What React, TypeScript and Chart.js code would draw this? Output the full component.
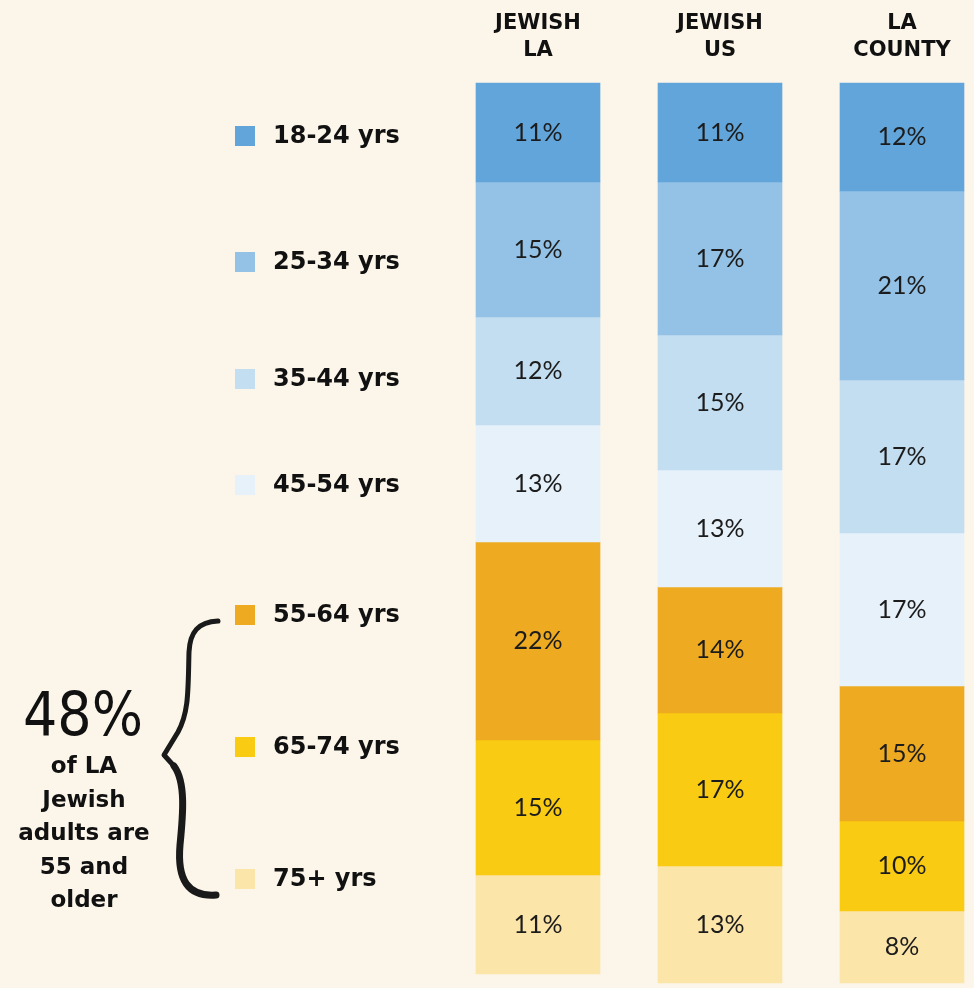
import React, { useEffect, useRef } from "react";
import { Chart, registerables } from "chart.js";

Chart.register(...registerables);

// ---- data ----
const columns: string[][] = [
  ["JEWISH", "LA"],
  ["JEWISH", "US"],
  ["LA", "COUNTY"],
];
const ageGroups = [
  "18-24 yrs",
  "25-34 yrs",
  "35-44 yrs",
  "45-54 yrs",
  "55-64 yrs",
  "65-74 yrs",
  "75+ yrs",
];
const age18_24 = [11, 11, 12];
const age25_34 = [15, 17, 21];
const age35_44 = [12, 15, 17];
const age45_54 = [13, 13, 17];
const age55_64 = [22, 14, 15];
const age65_74 = [15, 17, 10];
const age75plus = [11, 13, 8];
const seriesValues = [age18_24, age25_34, age35_44, age45_54, age55_64, age65_74, age75plus];
const calloutValue = "48%";
const calloutLines = ["of LA", "Jewish", "adults are", "55 and", "older"];

// ---- styles ----
const BG = "#fcf6ea";
const COLORS = ["#62a5db", "#93c2e6", "#c3ddf1", "#e6f1fa", "#eeab22", "#f9cb12", "#fce5a8"];
const BOLD_FONT = '"DejaVu Sans", sans-serif';
const LABEL_FONT = 'Lato, "Open Sans", sans-serif';
const LEGEND_Y = [136, 262, 379, 485, 615, 747, 879];

const decorPlugin = {
  id: "decor",
  afterDatasetsDraw(chart: any) {
    const ctx = chart.ctx as CanvasRenderingContext2D;
    ctx.save();
    // value labels
    ctx.font = `400 25px ${LABEL_FONT}`;
    ctx.fillStyle = "#1c1c1c";
    ctx.textAlign = "center";
    ctx.textBaseline = "middle";
    chart.data.datasets.forEach((ds: any, di: number) => {
      const meta = chart.getDatasetMeta(di);
      meta.data.forEach((el: any, i: number) => {
        const v = ds.data[i];
        if (v == null) return;
        const cy = (el.y + el.base) / 2;
        ctx.fillText(`${v}%`, el.x, cy);
      });
    });

    // legend
    ctx.textAlign = "left";
    ctx.font = `bold 24px ${BOLD_FONT}`;
    ageGroups.forEach((g, i) => {
      const y = LEGEND_Y[i];
      ctx.fillStyle = COLORS[i];
      ctx.fillRect(235, y - 10, 20, 20);
      ctx.fillStyle = "#111";
      ctx.fillText(g, 273, y + 1);
    });

    // callout
    ctx.textAlign = "center";
    ctx.textBaseline = "alphabetic";
    ctx.fillStyle = "#111";
    ctx.font = `300 60px "DejaVu Sans Condensed", "DejaVu Sans", sans-serif`;
    ctx.fillText(calloutValue, 83, 735);
    ctx.font = `bold 23px ${BOLD_FONT}`;
    calloutLines.forEach((line, i) => {
      ctx.fillText(line, 84, 773 + i * 33.5);
    });

    // brace
    ctx.strokeStyle = "#1a1a1a";
    ctx.lineCap = "round";
    ctx.lineJoin = "round";
    ctx.lineWidth = 5;
    ctx.beginPath();
    ctx.moveTo(218, 621);
    ctx.bezierCurveTo(198, 622, 190, 632, 189, 652);
    ctx.bezierCurveTo(188, 690, 189, 712, 178, 732);
    ctx.lineTo(164, 755);
    ctx.lineTo(174, 766);
    ctx.stroke();
    ctx.lineWidth = 7;
    ctx.beginPath();
    ctx.moveTo(174, 766);
    ctx.bezierCurveTo(186, 782, 183, 815, 180, 845);
    ctx.bezierCurveTo(177, 880, 188, 897, 216, 895);
    ctx.stroke();
    ctx.restore();
  },
};

export default function App() {
  const ref = useRef<HTMLCanvasElement | null>(null);
  useEffect(() => {
    if (!ref.current) return;
    const chart = new Chart(ref.current, {
      type: "bar",
      data: {
        labels: columns,
        datasets: seriesValues.map((vals, i) => ({
          label: ageGroups[i],
          data: vals,
          backgroundColor: COLORS[i],
          borderWidth: 0,
          barThickness: 124,
          clip: false as any,
        })),
      },
      options: {
        animation: false,
        responsive: false,
        maintainAspectRatio: false,
        layout: { padding: { left: 538, right: 72, top: -9, bottom: 5 } },
        plugins: {
          legend: { display: false },
          tooltip: { enabled: false },
          title: { display: false },
        },
        scales: {
          x: {
            type: "category",
            position: "top",
            stacked: true,
            offset: false,
            grid: { display: false, drawTicks: false, offset: false },
            border: { display: false },
            ticks: {
              color: "#111",
              font: { family: BOLD_FONT, weight: "bold", size: 21, lineHeight: 27 / 21 },
              padding: 19,
              autoSkip: false,
              maxRotation: 0,
            },
          },
          y: {
            stacked: true,
            reverse: true,
            min: 0,
            max: 100,
            display: false,
          },
        },
      },
      plugins: [decorPlugin],
    });
    return () => chart.destroy();
  }, []);

  return (
    <div style={{ position: "absolute", left: 0, top: 0, width: 974, height: 988, background: BG, overflow: "hidden" }}>
      <canvas ref={ref} width={974} height={988} style={{ display: "block", width: 974, height: 988 }} />
    </div>
  );
}
